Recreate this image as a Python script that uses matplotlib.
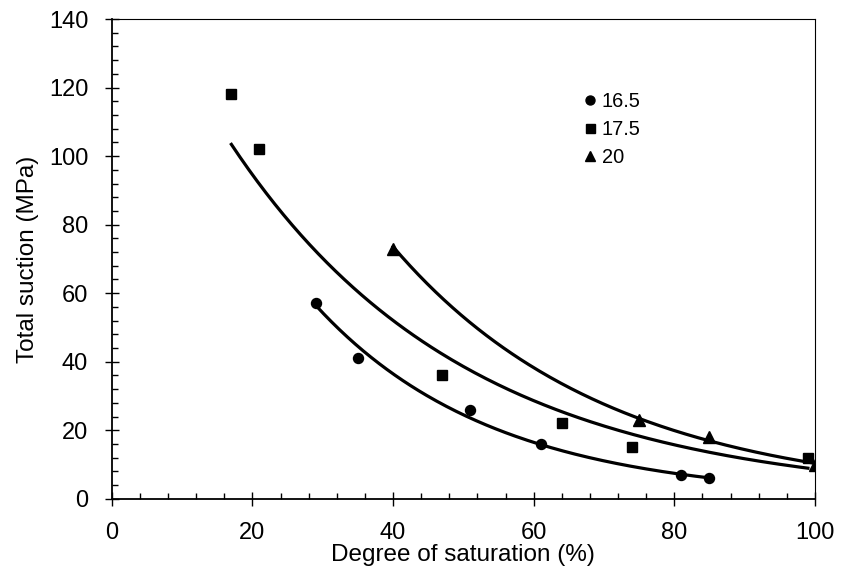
import numpy as np
import matplotlib.pyplot as plt
from matplotlib.ticker import MultipleLocator

plt.rcParams['font.family'] = ['Liberation Sans', 'DejaVu Sans']

# degree of saturation (%) and total suction (MPa) per series
x_165 = [29, 35, 51, 61, 81, 85]
y_165 = [57, 41, 26, 16, 7, 6]
x_175 = [17, 21, 47, 64, 74, 99]
y_175 = [118, 102, 36, 22, 15, 12]
x_20 = [40, 75, 85, 100]
y_20 = [73, 23, 18, 10]

series = [
    ('16.5', x_165, y_165, 'o', 7.2),
    ('17.5', x_175, y_175, 's', 7.2),
    ('20', x_20, y_20, '^', 8),
]

fig = plt.figure(figsize=(8.41, 5.76), dpi=100)
ax = fig.add_axes([0.133, 0.134, 0.836, 0.833])

for label, xs, ys, mk, ms in series:
    xs = np.array(xs, float)
    ys = np.array(ys, float)
    # exponential trend line, fitted on log(y)
    b, lna = np.polyfit(xs, np.log(ys), 1)
    xx = np.linspace(xs.min(), xs.max(), 200)
    ax.plot(xx, np.exp(lna + b * xx), color='black', lw=2.3, zorder=2)
    ax.plot(xs, ys, linestyle='none', marker=mk, ms=ms, color='black',
            label=label, zorder=3)

ax.set_xlim(0, 100)
ax.set_ylim(0, 140)
ax.xaxis.set_major_locator(MultipleLocator(20))
ax.xaxis.set_minor_locator(MultipleLocator(4))
ax.yaxis.set_major_locator(MultipleLocator(20))
ax.yaxis.set_minor_locator(MultipleLocator(4))
ax.tick_params(which='major', direction='inout', length=10, width=1,
               labelsize=17, pad=12)
ax.tick_params(which='minor', direction='in', length=4, width=1)
ax.tick_params(top=False, right=False, which='both')
for s in ['left', 'bottom']:
    ax.spines[s].set_linewidth(1.3)
for s in ['top', 'right']:
    ax.spines[s].set_linewidth(0.8)

ax.set_xlabel('Degree of saturation (%)', fontsize=17.5, labelpad=0)
ax.set_ylabel('Total suction (MPa)', fontsize=17.5, labelpad=7)

ax.legend(loc='upper left', bbox_to_anchor=(0.66, 0.865), frameon=False,
          fontsize=14.4, handlelength=0.6, handletextpad=0.3,
          labelspacing=0.45, borderaxespad=0, markerscale=0.9)

fig.savefig('out.png', dpi=100)
